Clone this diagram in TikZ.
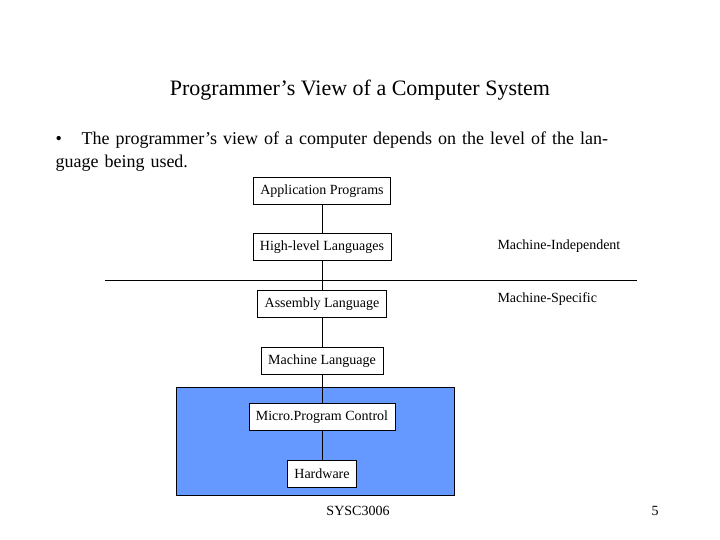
\documentclass[tikz,border=0pt]{standalone}
\usepackage{fontspec}
\setmainfont{Liberation Serif}
\usetikzlibrary{positioning}
\definecolor{hwblue}{HTML}{6699FF}

\begin{document}
\begin{tikzpicture}[x=1pt, y=-1pt,
    levelnode/.style={rectangle, draw=black, fill=white, line width=0.6pt, inner xsep=7pt, minimum height=27pt, font=\fontsize{14}{16}\selectfont},
    sidenode/.style={anchor=west, font=\fontsize{14}{16}\selectfont},
    linkline/.style={draw=black, line width=0.6pt}
   ]
   \useasboundingbox (0,0) rectangle (720,540);
   \node (title) at (360,90) {\fontsize{22}{26}\selectfont Programmer’s View of a Computer System};
   \node[anchor=north west, text width=560pt, align=left, font=\fontsize{18}{23}\selectfont] (bullet) at (52,128)
     {\hangindent=26pt\makebox[26pt][l]{•}The programmer’s view of a computer depends on the level of the language being used.};

   \fill[hwblue, draw=black, line width=0.6pt] (176,387) rectangle (454,495);

   \node[levelnode] (app)   at (322,191) {Application Programs};
   \node[levelnode] (high)  at (322,247) {High-level Languages};
   \node[levelnode] (asm)   at (322,304) {Assembly Language};
   \node[levelnode] (mach)  at (322,361) {Machine Language};
   \node[levelnode] (micro) at (322,417) {Micro.Program Control};
   \node[levelnode] (hw)    at (322,474) {Hardware};

   \draw[linkline] (app) -- (high);
   \draw[linkline] (high) -- (asm);
   \draw[linkline] (asm) -- (mach);
   \draw[linkline] (mach) -- (micro);
   \draw[linkline] (micro) -- (hw);

   \coordinate (divL) at (105,280);
   \coordinate (divR) at (637,280);
   \draw[linkline] (divL) -- (divR);

   \node[sidenode] (indep) at (494,246) {Machine-Independent};
   \node[sidenode] (spec)  at (494,299) {Machine-Specific};

   \node[font=\fontsize{14}{16}\selectfont] (course) at (358,511) {SYSC3006};
   \node[font=\fontsize{14}{16}\selectfont] (page) at (655,511) {5};
\end{tikzpicture}
\end{document}
